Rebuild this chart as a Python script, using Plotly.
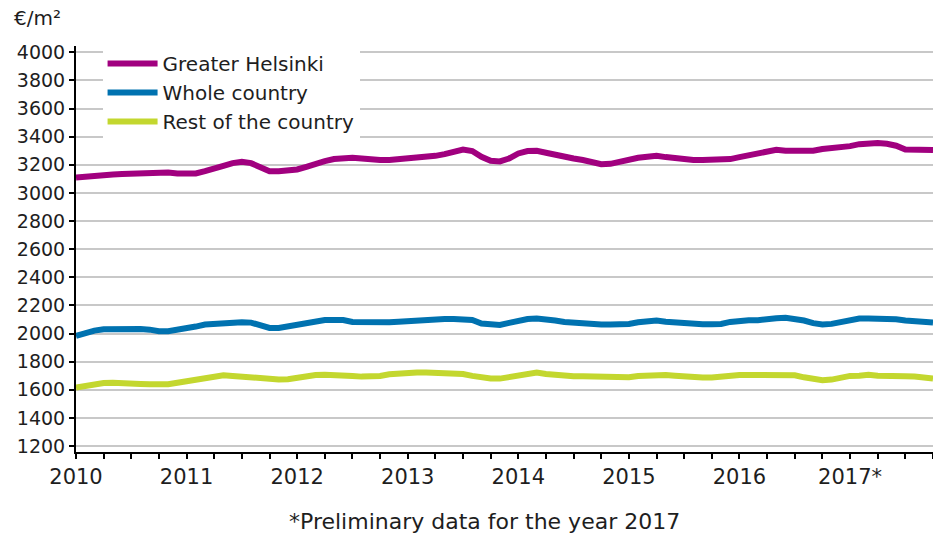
import plotly.graph_objects as go

# Monthly values, January 2010 onwards (EUR per square metre)
greater_helsinki = [3110, 3117, 3122, 3129, 3131, 3134, 3136, 3146, 3148, 3148, 3146, 3139,
                    3134, 3139, 3155, 3169, 3193, 3212, 3222, 3212, 3184, 3155, 3155, 3160,
                    3167, 3186, 3210, 3226, 3241, 3250, 3250, 3245, 3236, 3234, 3234, 3238,
                    3245, 3250, 3255, 3264, 3276, 3293, 3309, 3298, 3257, 3229, 3224, 3245,
                    3281, 3298, 3300, 3286, 3269, 3257, 3245, 3234, 3217, 3205, 3207, 3222,
                    3238, 3250, 3257, 3264, 3255, 3245, 3236, 3234, 3234, 3234, 3238, 3241,
                    3255, 3269, 3283, 3298, 3307, 3300, 3298, 3298, 3300, 3312, 3317, 3321,
                    3333, 3347, 3355, 3355, 3350, 3336, 3309, 3305, 3305, 3305]
whole_country = [1983, 2007, 2021, 2031, 2033, 2033, 2033, 2033, 2028, 2017, 2017, 2026,
                 2036, 2050, 2064, 2069, 2081, 2083, 2081, 2078, 2059, 2040, 2040, 2050,
                 2064, 2078, 2090, 2097, 2097, 2097, 2083, 2081, 2081, 2081, 2081, 2085,
                 2090, 2093, 2097, 2102, 2104, 2104, 2104, 2097, 2071, 2064, 2062, 2076,
                 2095, 2104, 2107, 2104, 2093, 2083, 2076, 2069, 2066, 2064, 2064, 2066,
                 2069, 2081, 2088, 2093, 2085, 2078, 2071, 2066, 2066, 2066, 2069, 2083,
                 2093, 2095, 2095, 2097, 2109, 2112, 2107, 2093, 2074, 2064, 2069, 2081,
                 2097, 2107, 2107, 2107, 2107, 2102, 2093, 2090, 2088, 2078]
rest_of_country = [1616, 1628, 1642, 1649, 1651, 1651, 1649, 1642, 1640, 1640, 1640, 1651,
                   1663, 1673, 1687, 1696, 1704, 1699, 1694, 1689, 1680, 1670, 1673, 1675,
                   1687, 1699, 1706, 1708, 1708, 1708, 1699, 1694, 1694, 1699, 1711, 1718,
                   1720, 1723, 1723, 1723, 1723, 1723, 1713, 1699, 1685, 1680, 1680, 1692,
                   1708, 1720, 1723, 1713, 1706, 1701, 1696, 1696, 1694, 1689, 1687, 1687,
                   1689, 1699, 1704, 1711, 1706, 1701, 1694, 1687, 1687, 1687, 1694, 1704,
                   1706, 1706, 1706, 1706, 1706, 1706, 1704, 1689, 1675, 1668, 1673, 1687,
                   1699, 1701, 1708, 1701, 1696, 1696, 1696, 1694, 1687, 1680]

series_names = ["Greater Helsinki", "Whole country", "Rest of the country"]
series_colors = ["#a1007f", "#0072b0", "#c3d72f"]
year_ticks = [2010, 2011, 2012, 2013, 2014, 2015, 2016, 2017]
year_labels = ["2010", "2011", "2012", "2013", "2014", "2015", "2016", "2017*"]
y_ticks = list(range(1200, 4001, 200))

x = [2010 + m / 12 for m in range(len(greater_helsinki))]

FONT = "DejaVu Sans"
TXT = "#1e1e1e"

fig = go.Figure()
for name, vals, col in zip(series_names,
                           [greater_helsinki, whole_country, rest_of_country],
                           series_colors):
    fig.add_trace(go.Scatter(x=x, y=vals, mode="lines", name=name,
                             line=dict(color=col, width=6)))

fig.update_layout(
    width=933, height=539, autosize=False,
    margin=dict(l=76, r=0, t=46, b=87),
    paper_bgcolor="white", plot_bgcolor="white",
    font=dict(family=FONT, size=19, color=TXT),
    showlegend=True,
    legend=dict(x=0.031, y=1.005, xanchor="left", yanchor="top",
                bgcolor="white", borderwidth=0,
                font=dict(family=FONT, size=20, color=TXT),
                itemwidth=50, tracegroupgap=0),
    xaxis=dict(range=[2010, x[-1]], tickmode="array", tickvals=year_ticks,
               ticktext=year_labels, ticks="outside", ticklen=5, tickwidth=1.5,
               tickcolor="black", showline=True, linecolor="black", linewidth=2,
               showgrid=False, zeroline=False,
               tickfont=dict(family=FONT, size=21, color=TXT),
               minor=dict(dtick=0.25, tick0=2010, ticks="outside", ticklen=5,
                          tickwidth=1.5, tickcolor="black", showgrid=False)),
    yaxis=dict(range=[1158, 4045], tickmode="array", tickvals=y_ticks,
               ticks="outside", ticklen=5, tickwidth=1.5, tickcolor="black",
               showline=True, linecolor="black", linewidth=2,
               showgrid=True, gridcolor="#c8c8c8", gridwidth=1.5,
               zeroline=False,
               tickfont=dict(family=FONT, size=19, color=TXT)),
    annotations=[
        dict(text="€/m²", xref="paper", yref="paper", x=-0.075, y=1.069,
             xanchor="left", yanchor="middle", showarrow=False,
             font=dict(family=FONT, size=20, color=TXT)),
        dict(text="*Preliminary data for the year 2017", xref="paper", yref="paper",
             x=0.477, y=-0.17, xanchor="center", yanchor="middle", showarrow=False,
             font=dict(family=FONT, size=22, color=TXT)),
    ],
)

fig.write_html("out.html",
               config={"displayModeBar": False},
               post_script="document.body.style.margin='0px';document.body.style.overflow='hidden';")
